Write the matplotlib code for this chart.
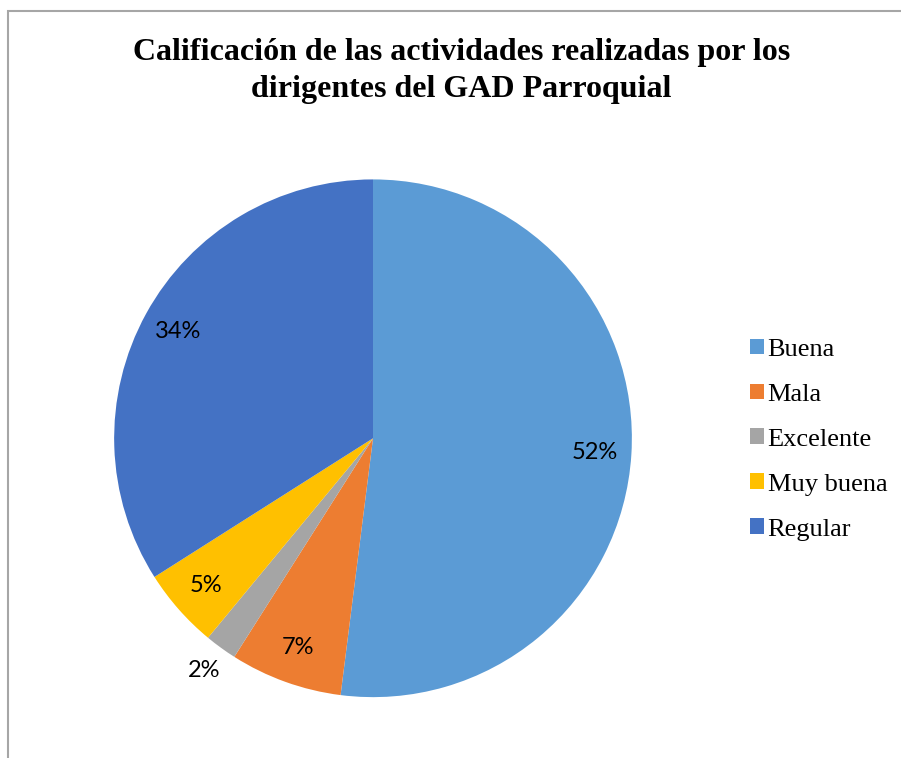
import matplotlib.pyplot as plt
import numpy as np
from matplotlib.patches import Rectangle

categorias = ["Buena", "Mala", "Excelente", "Muy buena", "Regular"]
porcentajes = [52, 7, 2, 5, 34]
colores = ["#5B9BD5", "#ED7D31", "#A5A5A5", "#FFC000", "#4472C4"]
titulo = "Calificación de las actividades realizadas por los\ndirigentes del GAD Parroquial"

fig = plt.figure(figsize=(9.01, 7.58), dpi=100)

# marco gris del area del grafico
fig.patches.append(Rectangle((8 / 901, -0.05), 1.1, 1 - 11 / 758 + 0.05,
                             transform=fig.transFigure, fill=False,
                             edgecolor="#a6a6a6", linewidth=1.5))

fig.text(0.512, 0.906, titulo, ha="center", va="center", family="Liberation Serif",
         fontsize=23, fontweight="bold", linespacing=1.35)

ax = fig.add_axes([0.1265, 0.0803, 0.575, 0.683])
wedges, textos, autotextos = ax.pie(
    porcentajes, colors=colores, startangle=90, counterclock=False,
    autopct="%d%%", pctdistance=0.86,
    wedgeprops=dict(edgecolor="none"),
    textprops=dict(family="Lato", fontsize=17, color="black"))
ax.set_xlim(-1, 1)
ax.set_ylim(-1, 1)
ax.set_aspect("equal")

# etiquetas de sectores pequenos fuera del pastel
for w, t, v in zip(wedges, autotextos, porcentajes):
    if v < 3:
        ang = np.deg2rad((w.theta1 + w.theta2) / 2)
        t.set_position((1.11 * np.cos(ang), 1.11 * np.sin(ang)))

leg = fig.legend(wedges, categorias, loc="center left", bbox_to_anchor=(0.806, 0.42),
                 frameon=False, prop=dict(family="Liberation Serif", size=19),
                 handlelength=0.55, handleheight=0.55, handletextpad=0.12,
                 labelspacing=0.86)
for h in leg.legend_handles:
    h.set_edgecolor("none")

fig.savefig("out.png", dpi=100)
